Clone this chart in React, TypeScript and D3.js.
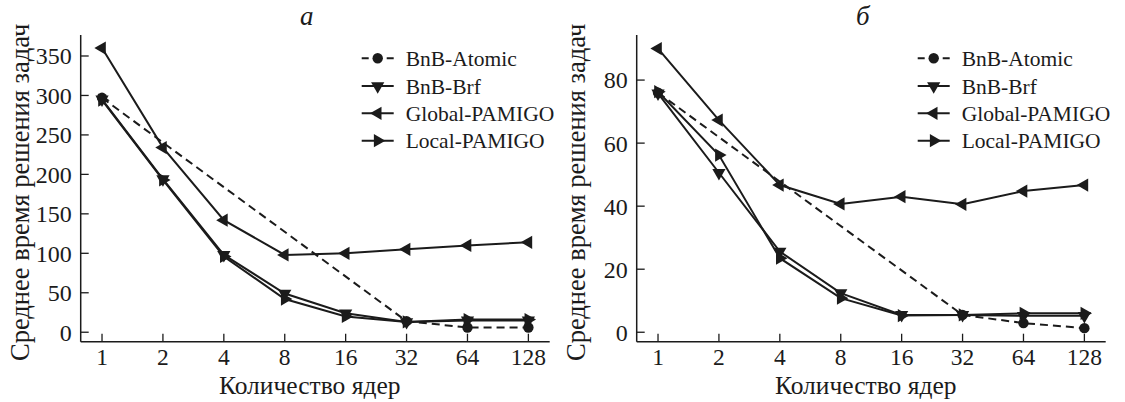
import React from 'react';
import * as d3 from 'd3';

const cores = ["1", "2", "4", "8", "16", "32", "64", "128"];
const seriesNames = ["BnB-Atomic", "BnB-Brf", "Global-PAMIGO", "Local-PAMIGO"];

// panel a
const atomicA = [297, null, null, null, null, 14, 6, 6];
const brfA = [295, 194, 98, 49, 24, 13, 15, 15];
const globalA = [360, 234, 142, 98, 100, 105, 110, 114];
const localA = [294, 193, 96, 42, 20, 13, 16, 16];
const ticksA = [0, 50, 100, 150, 200, 250, 300, 350];

// panel б
const atomicB = [76, null, null, null, null, 5.5, 2.9, 1.3];
const brfB = [75.8, 50.6, 25.6, 12.4, 5.5, 5.5, 5.2, 5.2];
const globalB = [90, 67.3, 46.7, 40.7, 43, 40.6, 44.8, 46.7];
const localB = [76.3, 56.2, 23.5, 10.8, 5.3, 5.5, 6, 6];
const ticksB = [0, 20, 40, 60, 80];

const font = "'Liberation Serif', 'Times New Roman', serif";
const ink = "#1b1b1b";

// marker per series: circle, down, left, right triangles
const markerPath = (i: number) => {
  if (i === 0) return d3.symbol(d3.symbolCircle, 85)()!;
  return d3.symbol(d3.symbolTriangle, 76)()!;
};
const markerRot = [0, 180, -90, 90];

type PanelProps = {
  x0: number;
  title: string;
  series: (number | null)[][];
  yDomain: [number, number];
  yTicks: number[];
};

const Panel = ({ x0, title, series, yDomain, yTicks }: PanelProps) => {
  const top = 35, bottom = 341.7, w = 469;
  const x = d3.scalePoint<string>().domain(cores).range([x0, x0 + w]).padding(0.35);
  const y = d3.scaleLinear().domain(yDomain).range([bottom, top]);
  const line = d3.line<[string, number]>().x(d => x(d[0])!).y(d => y(d[1]));

  const pts = (vals: (number | null)[]) =>
    cores.map((c, i) => [c, vals[i]] as [string, number | null])
      .filter(d => d[1] !== null) as [string, number][];

  const legX = x0 + 281;
  const legY = [58.3, 86, 113.3, 140.7];

  return (
    <g>
      <text x={x0 + 226} y={25} textAnchor="middle" fontStyle="italic" fontSize={27} fontFamily={font} fill={ink}>{title}</text>
      {/* axes */}
      <line x1={x0} x2={x0} y1={top} y2={bottom} stroke={ink} strokeWidth={1.5} />
      <line x1={x0} x2={x0 + w} y1={bottom} y2={bottom} stroke={ink} strokeWidth={1.5} />
      {yTicks.map(t => (
        <g key={t}>
          <line x1={x0} x2={x0 + 8} y1={y(t)} y2={y(t)} stroke={ink} strokeWidth={1.3} />
          <text x={x0 - 9} y={y(t)} dy="0.35em" textAnchor="end" fontSize={24} fontFamily={font} fill={ink}>{t}</text>
        </g>
      ))}
      {cores.map(c => (
        <g key={c}>
          <line x1={x(c)} x2={x(c)} y1={bottom} y2={bottom - 8} stroke={ink} strokeWidth={1.3} />
          <text x={x(c)} y={365} textAnchor="middle" fontSize={23.5} fontFamily={font} fill={ink}>{c}</text>
        </g>
      ))}
      <text x={x0 + 229} y={394} textAnchor="middle" fontSize={25.5} fontFamily={font} fill={ink}>Количество ядер</text>
      <text transform={`translate(${x0 - 52},${(top + bottom) / 2 + 4}) rotate(-90)`} textAnchor="middle" fontSize={26.5} fontFamily={font} fill={ink}>Среднее время решения задач</text>

      {/* lines */}
      {series.map((vals, i) => (
        <path key={i} d={line(pts(vals))!} fill="none" stroke={ink} strokeWidth={2}
          strokeDasharray={i === 0 ? "8,5" : undefined} />
      ))}
      {series.map((vals, i) => pts(vals).map(d => (
        <path key={i + '-' + d[0]} d={markerPath(i)} fill={ink}
          transform={`translate(${x(d[0])},${y(d[1])}) rotate(${markerRot[i]})`} />
      )))}

      {/* legend */}
      {seriesNames.map((name, i) => (
        <g key={name}>
          <line x1={legX} x2={legX + 32} y1={legY[i]} y2={legY[i]} stroke={ink} strokeWidth={2}
            strokeDasharray={i === 0 ? "7,18" : undefined} />
          <path d={markerPath(i)} fill={ink} transform={`translate(${legX + 16},${legY[i]}) rotate(${markerRot[i]})`} />
          <text x={legX + 44} y={legY[i]} dy="0.35em" fontSize={21.5} fontFamily={font} fill={ink}>{name}</text>
        </g>
      ))}
    </g>
  );
};

export default function App() {
  return (
    <div style={{ position: 'absolute', left: 0, top: 0 }}>
      <svg width={1125} height={402} style={{ display: 'block', background: '#fff' }}>
        <Panel x0={80.7} title="а" series={[atomicA, brfA, globalA, localA]} yDomain={[-12, 376.6]} yTicks={ticksA} />
        <Panel x0={636.7} title="б" series={[atomicB, brfB, globalB, localB]} yDomain={[-3, 94.3]} yTicks={ticksB} />
      </svg>
    </div>
  );
}
